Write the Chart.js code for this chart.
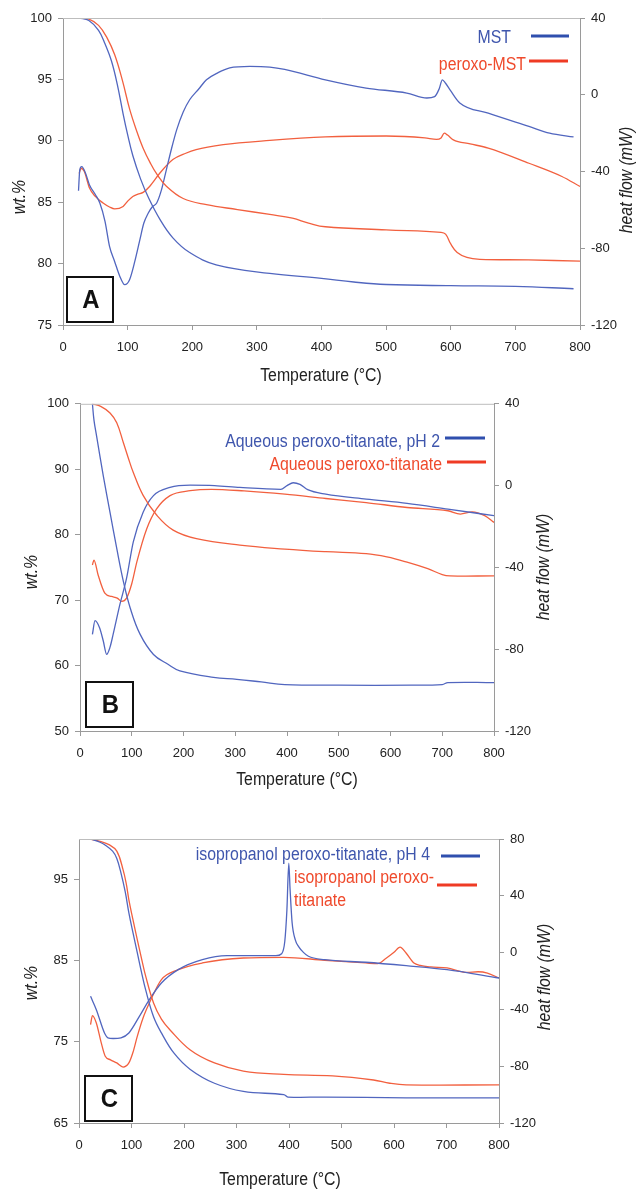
<!DOCTYPE html>
<html>
<head>
<meta charset="utf-8">
<title>TGA / DSC of peroxo-titanates</title>
<script src="https://cdn.jsdelivr.net/npm/chart.js@4.4.1/dist/chart.umd.min.js"></script>
<style>
  html, body { margin: 0; padding: 0; background: #fff; }
  #wrap { position: relative; width: 638px; height: 1190px; }
  #wrap canvas { position: absolute; left: 0; }
</style>
</head>
<body>
<div id="wrap">
  <canvas id="chartA" width="638" height="390" style="top:0"></canvas>
  <canvas id="chartB" width="638" height="400" style="top:390px"></canvas>
  <canvas id="chartC" width="638" height="400" style="top:790px"></canvas>
</div>
<script>
// ---- shared axis ticks ----
const tempTicks = [0, 100, 200, 300, 400, 500, 600, 700, 800];

// ---- A: MST / peroxo-MST ----
const namesA = ['MST', 'peroxo-MST'];
const wtTicksA = [75, 80, 85, 90, 95, 100];
const hfTicksA = [-120, -80, -40, 0, 40];

const aTgaMstT = [25, 40, 55, 65, 75, 84, 93, 100, 108, 120, 132, 150, 170, 196, 237, 320, 400, 450, 500, 600, 700, 790];
const aTgaMst  = [100, 99.8, 99.0, 97.9, 96.5, 94.6, 92.2, 90.5, 88.8, 86.9, 85.4, 83.6, 82.1, 80.9, 79.9, 79.2, 78.8, 78.5, 78.3, 78.2, 78.15, 77.95];

const aTgaPerT = [25, 40, 55, 68, 80, 92, 103, 114, 124, 135, 145, 160, 186, 222, 270, 320, 355, 380, 406, 500, 585, 592, 600, 610, 625, 645, 720, 800];
const aTgaPer  = [100, 99.9, 99.4, 98.4, 97.0, 94.9, 92.6, 90.8, 89.4, 88.2, 87.3, 86.3, 85.3, 84.8, 84.4, 84.0, 83.7, 83.3, 83.0, 82.75, 82.55, 82.4, 81.6, 80.9, 80.5, 80.35, 80.3, 80.2];

const aDscMstT = [24, 26, 29, 35, 41, 50, 57, 65, 72, 80, 88, 95.5, 103, 111, 119, 125, 132, 138, 145, 152, 160, 168, 176, 186, 196, 210, 222, 240, 258, 289, 320, 343, 406, 469, 532, 563, 575, 582, 587, 592, 600, 614, 658, 721, 753, 790];
const aDscMst  = [-50, -39, -37.5, -41, -47, -52, -56.4, -66, -79, -87, -94.7, -99, -96.4, -87, -75.5, -67, -61.6, -58.5, -56.4, -50, -39, -28, -18.2, -9, -2.6, 3, 7.8, 11.5, 14, 14.8, 14.4, 13.2, 7.8, 3.5, 0.9, -1.7, -1.0, 3, 7.8, 6, 2, -4.3, -9.6, -16.5, -20, -22];

const aDscPerT = [25, 28, 33, 41, 50, 62, 72, 80, 93, 100, 108, 116, 124, 134, 150, 170, 190, 206, 248, 320, 406, 500, 560, 578, 585, 590, 595, 604, 630, 658, 721, 772, 800];
const aDscPer  = [-41, -38.3, -40, -48.6, -53, -56.4, -58.5, -59.5, -58.2, -55.5, -53, -51.8, -50.9, -47.8, -40.8, -33.8, -30.5, -28.6, -26, -23.8, -22, -21.5, -22.5, -23.3, -22.5, -20, -21, -23.5, -25.6, -27.8, -35.7, -42.6, -47.8];

// ---- B: aqueous peroxo-titanates ----
const namesB = ['Aqueous peroxo-titanate, pH 2', 'Aqueous peroxo-titanate'];
const wtTicksB = [50, 60, 70, 80, 90, 100];
const hfTicksB = [-120, -80, -40, 0, 40];

const bTgaPh2T = [24, 27, 32, 45, 58, 71, 84, 97, 116, 142, 170, 193, 258, 303, 350, 396, 500, 640, 700, 711, 800];
const bTgaPh2  = [100, 97.5, 95.1, 89, 83.4, 77.9, 72.8, 68.8, 64.8, 61.7, 60.2, 59.2, 58.2, 57.9, 57.5, 57.1, 57.0, 57.0, 57.1, 57.4, 57.4];

const bTgaAqT = [24, 40, 58, 71, 84, 93, 103, 122, 148, 180, 225, 309, 396, 475, 553, 593, 632, 672, 700, 715, 800];
const bTgaAq  = [100, 99.6, 98.6, 97.1, 94, 91.8, 89.5, 86, 83, 80.7, 79.4, 78.4, 77.8, 77.4, 77.1, 76.6, 75.8, 74.8, 73.9, 73.7, 73.7];

const bDscPh2T = [24, 29, 38, 45, 51.5, 58, 64, 77, 90, 103, 122, 142, 174, 213, 260, 309, 388, 400, 412, 425, 440, 475, 553, 632, 711, 800];
const bDscPh2  = [-72.8, -66, -69.6, -76, -82.5, -79, -72.8, -58.2, -45.3, -27.5, -13, -4.9, -0.9, 0.2, 0, -0.9, -1.8, 0, 1.4, 0.6, -2, -4.2, -6.6, -8.7, -11.5, -14.7];

const bDscAqT = [24, 27, 35, 48, 61, 72, 80.5, 90, 100, 110, 129, 148, 174, 213, 254, 317, 396, 475, 553, 632, 711, 735, 758, 782, 800];
const bDscAq  = [-38.8, -36.4, -43.7, -52.6, -54.2, -55, -56.6, -55, -48, -37.2, -21.1, -11.4, -4.9, -2.5, -1.8, -2.6, -4.2, -6.3, -8.3, -10.7, -12.3, -13.9, -12.8, -14.7, -18];

// ---- C: isopropanol peroxo-titanates ----
const namesC = ['isopropanol peroxo-titanate, pH 4', 'isopropanol peroxo-titanate'];
const wtTicksC = [65, 75, 85, 95];
const hfTicksC = [-120, -80, -40, 0, 40, 80];

const cTgaPh4T = [22, 40, 49, 64, 72, 80, 88, 95, 103, 111, 119, 127, 142, 157, 181, 212, 258, 313, 390, 398, 468, 623, 800];
const cTgaPh4  = [100, 99.6, 99.3, 98.5, 97.6, 95.8, 93.5, 90.9, 88.4, 86, 83.6, 81.4, 78.1, 76.1, 73.6, 71.6, 69.9, 68.9, 68.5, 68.2, 68.2, 68.1, 68.1];

const cTgaIsoT = [22, 40, 57, 72, 84, 90, 95, 103, 111, 119, 127, 142, 157, 173, 212, 258, 313, 390, 483, 561, 592, 623, 800];
const cTgaIso  = [100, 99.7, 99.3, 98.5, 96.2, 94.5, 92.5, 90, 87.6, 85.3, 83.1, 79.8, 77.8, 76.5, 74, 72.4, 71.4, 71, 70.8, 70.3, 69.9, 69.7, 69.7];

const cDscPh4T = [22, 33, 49, 55, 65, 80, 95, 115, 134, 157, 189, 235, 282, 375, 386, 392, 396, 399.6, 402, 406, 412, 418, 428, 437, 468, 546, 623, 701, 800];
const cDscPh4  = [-30.8, -40.2, -57, -60, -60.5, -60, -56.6, -44.9, -33.1, -21.4, -12, -5, -2.2, -2.2, -0.8, 8, 30, 63, 45, 20.8, 9, 4.4, 0, -2.6, -5, -6.8, -9.2, -12, -17.9];

const cDscIsoT = [22, 25.6, 33, 42, 50, 60, 72, 84, 95, 103, 111, 122, 134, 157, 189, 235, 313, 390, 468, 546, 569, 585, 600, 611.5, 623, 638, 650, 670, 701, 739, 760, 778, 800];
const cDscIso  = [-50.7, -44.4, -49.6, -63, -73, -75.5, -77.7, -80.6, -77.7, -70, -59, -46, -35.5, -19, -12, -7.3, -3.8, -3.3, -5.4, -7.3, -7.8, -4, 0.2, 3.9, -0.3, -7.3, -9, -10.1, -10.8, -13.9, -13.5, -14.4, -17.9];

// ---- styling ----
const BLUE = '#5166bf';
const RED = '#f2603f';
const BLUE_KEY = '#2f4fae';
const RED_KEY = '#ef3b24';
const BLUE_TXT = '#3f56ad';
const RED_TXT = '#ef4a2c';
const AXIS = '#9a9a9a';
const INK = '#222';
const FONT = '"Liberation Sans", Arial, Helvetica, sans-serif';

const pts = (xs, ys) => xs.map((x, i) => ({ x: x, y: ys[i] }));

// sharp exotherm peaks keep monotone splines so they don't overshoot
const line = (xs, ys, color, axis, spiky) => ({
    data: pts(xs, ys),
    borderColor: color,
    borderWidth: 1.3,
    pointRadius: 0,
    tension: 0.4,
    cubicInterpolationMode: spiky ? 'monotone' : 'default',
    yAxisID: axis,
    fill: false
});

// condensed text, the axis titles and keys use a narrow face
function txt(ctx, s, x, y, o) {
    ctx.save();
    ctx.translate(x, y);
    if (o.rot) ctx.rotate(o.rot);
    ctx.scale(o.sx || 0.88, 1);
    ctx.font = (o.italic ? 'italic ' : '') + (o.bold ? 'bold ' : '') + (o.size || 18) + 'px ' + FONT;
    ctx.fillStyle = o.color || INK;
    ctx.textAlign = o.align || 'center';
    ctx.textBaseline = 'middle';
    ctx.fillText(s, 0, 0);
    ctx.restore();
}

function keyLine(ctx, x1, x2, y, color) {
    ctx.save();
    ctx.strokeStyle = color;
    ctx.lineWidth = 3;
    ctx.beginPath();
    ctx.moveTo(x1, y);
    ctx.lineTo(x2, y);
    ctx.stroke();
    ctx.restore();
}

function panelBox(ctx, b, letter) {
    ctx.save();
    ctx.fillStyle = '#fff';
    ctx.fillRect(b.x, b.y, b.w, b.h);
    ctx.strokeStyle = '#111';
    ctx.lineWidth = 2;
    ctx.strokeRect(b.x, b.y, b.w, b.h);
    ctx.restore();
    txt(ctx, letter, b.x + b.w / 2 + 1, b.y + b.h / 2 + 1, { size: 26, bold: true, sx: 0.92, color: '#111' });
}

// frame top, titles, key, panel letter
const decor = (d) => ({
    id: 'decor',
    afterDraw(chart) {
        const ctx = chart.ctx;
        const a = chart.chartArea;
        ctx.save();
        ctx.strokeStyle = '#bdbdbd';
        ctx.lineWidth = 1;
        ctx.beginPath();
        ctx.moveTo(a.left, a.top + 0.5);
        ctx.lineTo(a.right, a.top + 0.5);
        ctx.stroke();
        ctx.restore();

        txt(ctx, 'wt.%', d.wt[0], d.wt[1], { italic: true, rot: -Math.PI / 2 });
        txt(ctx, 'heat flow (mW)', d.hf[0], d.hf[1], { italic: true, rot: -Math.PI / 2 });
        txt(ctx, 'Temperature (°C)', d.temp[0], d.temp[1], {});

        d.keys.forEach(k => {
            k.text.forEach((s, i) => {
                txt(ctx, s, k.tx, k.ty + i * 23, { color: k.txtColor, align: k.align });
            });
            keyLine(ctx, k.x1, k.x2, k.ly, k.color);
        });
        panelBox(ctx, d.box, d.letter);
    }
});

function makeChart(id, area, yCfg, y1Cfg, datasets, d) {
    const canvas = document.getElementById(id);
    const W = canvas.width, H = canvas.height;
    const tickFont = { family: FONT, size: 13 };
    const fixed = (arr) => (scale) => { scale.ticks = arr.map(v => ({ value: v })); };
    const axisBase = {
        type: 'linear',
        grid: { drawOnChartArea: false, drawTicks: true, tickLength: 5, color: AXIS },
        border: { display: true, color: AXIS, width: 1 }
    };
    return new Chart(canvas, {
        type: 'line',
        data: { datasets: datasets },
        options: {
            responsive: false,
            animation: false,
            devicePixelRatio: 1,
            layout: { padding: { top: area.top, left: 0, right: 0, bottom: 0 } },
            plugins: { legend: { display: false }, tooltip: { enabled: false } },
            scales: {
                x: Object.assign({}, axisBase, {
                    min: 0, max: 800,
                    afterBuildTicks: fixed(tempTicks),
                    ticks: { font: tickFont, color: INK, padding: 10, maxRotation: 0 },
                    afterFit: (s) => { s.height = H - area.bottom; }
                }),
                y: Object.assign({}, axisBase, {
                    position: 'left',
                    min: yCfg.min, max: yCfg.max,
                    afterBuildTicks: fixed(yCfg.ticks),
                    ticks: { font: tickFont, color: INK, padding: 6 },
                    afterFit: (s) => { s.width = area.left; }
                }),
                y1: Object.assign({}, axisBase, {
                    position: 'right',
                    min: y1Cfg.min, max: y1Cfg.max,
                    afterBuildTicks: fixed(y1Cfg.ticks),
                    ticks: { font: tickFont, color: INK, padding: 6 },
                    afterFit: (s) => { s.width = W - area.right; }
                })
            }
        },
        plugins: [decor(d)]
    });
}

makeChart('chartA',
    { left: 63, right: 580, top: 18, bottom: 325 },
    { min: 75, max: 100, ticks: wtTicksA },
    { min: -120, max: 40, ticks: hfTicksA },
    [
        line(aTgaMstT, aTgaMst, BLUE, 'y'),
        line(aTgaPerT, aTgaPer, RED, 'y'),
        line(aDscMstT, aDscMst, BLUE, 'y1', true),
        line(aDscPerT, aDscPer, RED, 'y1', true)
    ],
    {
        wt: [20, 197], hf: [627, 180], temp: [321, 376],
        keys: [
            { text: [namesA[0]], tx: 511, ty: 38, align: 'right', txtColor: BLUE_TXT, x1: 531, x2: 569, ly: 36, color: BLUE_KEY },
            { text: [namesA[1]], tx: 526, ty: 65, align: 'right', txtColor: RED_TXT, x1: 529, x2: 568, ly: 61, color: RED_KEY }
        ],
        box: { x: 67, y: 277, w: 46, h: 45 }, letter: 'A'
    });

makeChart('chartB',
    { left: 80, right: 494, top: 11, bottom: 341 },
    { min: 50, max: 100, ticks: wtTicksB },
    { min: -120, max: 40, ticks: hfTicksB },
    [
        line(bTgaPh2T, bTgaPh2, BLUE, 'y'),
        line(bTgaAqT, bTgaAq, RED, 'y'),
        line(bDscPh2T, bDscPh2, BLUE, 'y1', true),
        line(bDscAqT, bDscAq, RED, 'y1', true)
    ],
    {
        wt: [32, 182], hf: [544, 177], temp: [297, 390],
        keys: [
            { text: [namesB[0]], tx: 440, ty: 52, align: 'right', txtColor: BLUE_TXT, x1: 445, x2: 485, ly: 48, color: BLUE_KEY },
            { text: [namesB[1]], tx: 442, ty: 75, align: 'right', txtColor: RED_TXT, x1: 447, x2: 486, ly: 72, color: RED_KEY }
        ],
        box: { x: 86, y: 292, w: 47, h: 45 }, letter: 'B'
    });

makeChart('chartC',
    { left: 79, right: 499, top: 49, bottom: 333 },
    { min: 65, max: 100, ticks: wtTicksC },
    { min: -120, max: 80, ticks: hfTicksC },
    [
        line(cTgaPh4T, cTgaPh4, BLUE, 'y'),
        line(cTgaIsoT, cTgaIso, RED, 'y'),
        line(cDscPh4T, cDscPh4, BLUE, 'y1', true),
        line(cDscIsoT, cDscIso, RED, 'y1', true)
    ],
    {
        wt: [32, 193], hf: [545, 187], temp: [280, 390],
        keys: [
            { text: [namesC[0]], tx: 430, ty: 65, align: 'right', txtColor: BLUE_TXT, x1: 441, x2: 480, ly: 66, color: BLUE_KEY },
            { text: namesC[1].replace('-titanate', '-|titanate').split('|'), tx: 294, ty: 88, align: 'left', txtColor: RED_TXT, x1: 437, x2: 477, ly: 95, color: RED_KEY }
        ],
        box: { x: 85, y: 286, w: 47, h: 45 }, letter: 'C'
    });
</script>
</body>
</html>
